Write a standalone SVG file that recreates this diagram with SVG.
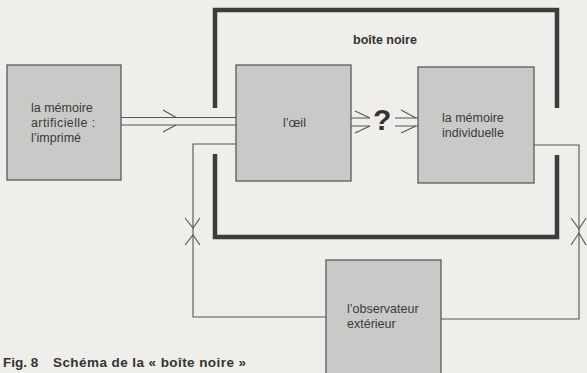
<svg xmlns="http://www.w3.org/2000/svg" width="587" height="373" viewBox="0 0 587 373">
<style>
.bg{fill:#efeeeb}
.box{fill:#c9c9c8;stroke:#505050;stroke-width:1.2}
.t{font-family:"Liberation Sans",Arial,sans-serif;font-size:12.5px;fill:#3a3a3a}
.b{font-family:"Liberation Sans",Arial,sans-serif;font-weight:bold;fill:#333}
.thin{fill:none;stroke:#555;stroke-width:1.1}
.thick{fill:none;stroke:#3c3c3c;stroke-width:4.5;stroke-linecap:butt;stroke-linejoin:miter}
</style>
<rect class="bg" x="0" y="0" width="587" height="373"/>
<g id="boite-noire">
<path class="thick" d="M215,108 V10 H557 V108"/>
<path class="thick" d="M215,154 V237 H557 V155"/>
<text class="b" x="353" y="44" font-size="12.5">boîte noire</text>
</g>
<g id="connectors">
<path class="thin" d="M121,117.5 H236 M121,125 H236"/>
<path class="thin" d="M163,110 L176,117.5 M163,132 L176,125"/>
<path class="thin" d="M351,118 H370 M351,126 H370"/>
<path class="thin" d="M355,111 L370,118 M355,133 L370,126"/>
<path class="thin" d="M395,118 H418 M395,126 H418"/>
<path class="thin" d="M401,110 L416,118 M401,133 L416,126"/>
<text class="b" x="373" y="130" font-size="30">?</text>
<path class="thin" d="M236,144 H193 V317 H326"/>
<path class="thin" d="M185,218 L193,228 L200,218 M185,245 L193,235 L200,245"/>
<path class="thin" d="M534,145 H579 V319 H441"/>
<path class="thin" d="M571,218 L579,229 L586,218 M571,245 L579,233 L586,245"/>
</g>
<g id="memoire-artificielle">
<rect class="box" x="7" y="65" width="114" height="115"/>
<text class="t" x="31" y="112">la mémoire</text>
<text class="t" x="31" y="127" letter-spacing="0.4">artificielle :</text>
<text class="t" x="31" y="142">l’imprimé</text>
</g>
<g id="oeil">
<rect class="box" x="236" y="65" width="115" height="116"/>
<text class="t" x="283" y="127">l’œil</text>
</g>
<g id="memoire-individuelle">
<rect class="box" x="418" y="67" width="116" height="116"/>
<text class="t" x="442" y="122">la mémoire</text>
<text class="t" x="442" y="137">individuelle</text>
</g>
<g id="observateur">
<rect class="box" x="326" y="260" width="115" height="120"/>
<text class="t" x="347" y="313">l’observateur</text>
<text class="t" x="347" y="328">extérieur</text>
</g>
<g id="caption">
<text class="b" x="3" y="367" font-size="13.5">Fig. 8</text>
<text class="b" x="53" y="367" font-size="13.5" textLength="193" lengthAdjust="spacing">Schéma de la « boîte noire »</text>
</g>
</svg>
